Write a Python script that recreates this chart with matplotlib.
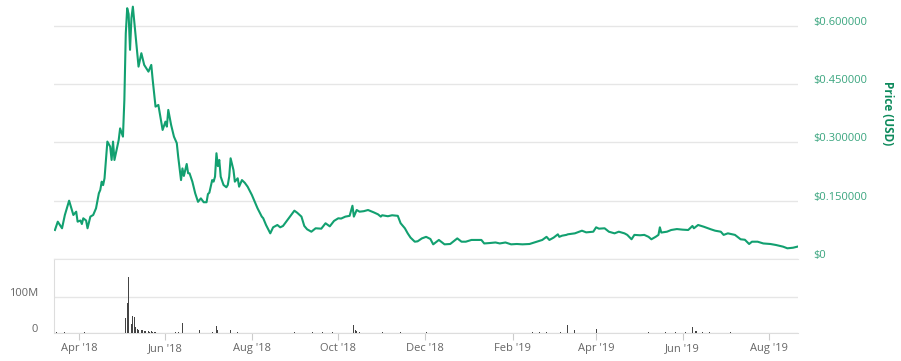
import matplotlib
matplotlib.use('Agg')
import matplotlib.pyplot as plt
from matplotlib.transforms import ScaledTranslation
import pandas as pd

plt.rcParams['font.family'] = ['Open Sans', 'DejaVu Sans']

price_dates = [
    '2018-03-15', '2018-03-17', '2018-03-20', '2018-03-22', '2018-03-25', '2018-03-27',
    '2018-03-28', '2018-03-30', '2018-03-31', '2018-04-02', '2018-04-03', '2018-04-04',
    '2018-04-06', '2018-04-07', '2018-04-09', '2018-04-11', '2018-04-13', '2018-04-15',
    '2018-04-16', '2018-04-17', '2018-04-18', '2018-04-19', '2018-04-21', '2018-04-23',
    '2018-04-24', '2018-04-25', '2018-04-26', '2018-04-29', '2018-04-30', '2018-05-02',
    '2018-05-03', '2018-05-04', '2018-05-05', '2018-05-06', '2018-05-07', '2018-05-08',
    '2018-05-09', '2018-05-11', '2018-05-13', '2018-05-15', '2018-05-17', '2018-05-20',
    '2018-05-22', '2018-05-23', '2018-05-25', '2018-05-27', '2018-05-30', '2018-06-01',
    '2018-06-02', '2018-06-03', '2018-06-05', '2018-06-07', '2018-06-09', '2018-06-10',
    '2018-06-12', '2018-06-13', '2018-06-14', '2018-06-16', '2018-06-17', '2018-06-18',
    '2018-06-20', '2018-06-22', '2018-06-24', '2018-06-26', '2018-06-28', '2018-06-30',
    '2018-07-01', '2018-07-02', '2018-07-04', '2018-07-05', '2018-07-06', '2018-07-07',
    '2018-07-08', '2018-07-09', '2018-07-10', '2018-07-12', '2018-07-14', '2018-07-15',
    '2018-07-16', '2018-07-17', '2018-07-19', '2018-07-20', '2018-07-22', '2018-07-23',
    '2018-07-25', '2018-07-27', '2018-07-29', '2018-08-01', '2018-08-03', '2018-08-05',
    '2018-08-08', '2018-08-09', '2018-08-11', '2018-08-14', '2018-08-16', '2018-08-19',
    '2018-08-21', '2018-08-23', '2018-08-27', '2018-08-31', '2018-09-02', '2018-09-05',
    '2018-09-07', '2018-09-09', '2018-09-12', '2018-09-15', '2018-09-19', '2018-09-22',
    '2018-09-25', '2018-09-28', '2018-10-01', '2018-10-03', '2018-10-06', '2018-10-09',
    '2018-10-11', '2018-10-12', '2018-10-14', '2018-10-16', '2018-10-19', '2018-10-22',
    '2018-10-26', '2018-10-29', '2018-10-31', '2018-11-01', '2018-11-05', '2018-11-08',
    '2018-11-12', '2018-11-14', '2018-11-17', '2018-11-19', '2018-11-21', '2018-11-24',
    '2018-11-26', '2018-11-29', '2018-12-02', '2018-12-05', '2018-12-07', '2018-12-09',
    '2018-12-11', '2018-12-15', '2018-12-19', '2018-12-24', '2018-12-27', '2018-12-30',
    '2019-01-03', '2019-01-10', '2019-01-12', '2019-01-16', '2019-01-20', '2019-01-23',
    '2019-01-27', '2019-01-31', '2019-02-04', '2019-02-08', '2019-02-13', '2019-02-18',
    '2019-02-22', '2019-02-25', '2019-02-27', '2019-03-02', '2019-03-05', '2019-03-06',
    '2019-03-08', '2019-03-11', '2019-03-12', '2019-03-17', '2019-03-22', '2019-03-25',
    '2019-03-30', '2019-04-01', '2019-04-03', '2019-04-07', '2019-04-10', '2019-04-14',
    '2019-04-17', '2019-04-21', '2019-04-23', '2019-04-26', '2019-04-28', '2019-05-02',
    '2019-05-05', '2019-05-08', '2019-05-10', '2019-05-13', '2019-05-15', '2019-05-16',
    '2019-05-17', '2019-05-21', '2019-05-24', '2019-05-28', '2019-06-01', '2019-06-05',
    '2019-06-08', '2019-06-09', '2019-06-12', '2019-06-16', '2019-06-21', '2019-06-24',
    '2019-06-28', '2019-06-30', '2019-07-03', '2019-07-08', '2019-07-12', '2019-07-15',
    '2019-07-18', '2019-07-20', '2019-07-24', '2019-07-28', '2019-08-02', '2019-08-06',
    '2019-08-11', '2019-08-14', '2019-08-18', '2019-08-21',
]
price_values = [
    0.0746, 0.0960, 0.0790, 0.1132, 0.1500, 0.1260,
    0.1132, 0.1217, 0.0960, 0.0990, 0.0900, 0.1047,
    0.0990, 0.0790, 0.1090, 0.1132, 0.1304, 0.1690,
    0.1775, 0.1989, 0.1900, 0.2076, 0.3020, 0.2890,
    0.2547, 0.3020, 0.2547, 0.3060, 0.3360, 0.3147,
    0.4090, 0.5800, 0.6450, 0.6300, 0.5380, 0.6200,
    0.6490, 0.5720, 0.4948, 0.5293, 0.4992, 0.4819,
    0.4992, 0.4606, 0.3919, 0.3962, 0.3319, 0.3533,
    0.3404, 0.3834, 0.3448, 0.3147, 0.2980, 0.2630,
    0.2030, 0.2330, 0.2136, 0.2444, 0.2205, 0.2205,
    0.1989, 0.1690, 0.1470, 0.1560, 0.1460, 0.1460,
    0.1670, 0.1706, 0.2030, 0.1990, 0.2118, 0.2720,
    0.2390, 0.2547, 0.2118, 0.1904, 0.1845, 0.1904,
    0.2118, 0.2590, 0.2290, 0.1989, 0.2076, 0.1860,
    0.2030, 0.1960, 0.1860, 0.1647, 0.1474, 0.1304,
    0.1090, 0.1050, 0.0875, 0.0660, 0.0815, 0.0875,
    0.0815, 0.0850, 0.1047, 0.1243, 0.1190, 0.1090,
    0.0850, 0.0764, 0.0702, 0.0790, 0.0780, 0.0919,
    0.0840, 0.0980, 0.1047, 0.1040, 0.1090, 0.1110,
    0.1370, 0.1090, 0.1260, 0.1217, 0.1230, 0.1260,
    0.1200, 0.1150, 0.1090, 0.1125, 0.1100, 0.1125,
    0.1110, 0.0920, 0.0790, 0.0660, 0.0550, 0.0445,
    0.0455, 0.0530, 0.0570, 0.0515, 0.0377, 0.0435,
    0.0490, 0.0377, 0.0386, 0.0530, 0.0445, 0.0445,
    0.0490, 0.0490, 0.0400, 0.0411, 0.0425, 0.0400,
    0.0425, 0.0377, 0.0386, 0.0377, 0.0386, 0.0445,
    0.0490, 0.0570, 0.0490, 0.0550, 0.0635, 0.0570,
    0.0600, 0.0620, 0.0635, 0.0660, 0.0728, 0.0685,
    0.0702, 0.0815, 0.0780, 0.0790, 0.0702, 0.0660,
    0.0702, 0.0660, 0.0620, 0.0507, 0.0620, 0.0610,
    0.0620, 0.0570, 0.0507, 0.0570, 0.0620, 0.0815,
    0.0680, 0.0702, 0.0746, 0.0770, 0.0755, 0.0746,
    0.0850, 0.0790, 0.0875, 0.0830, 0.0764, 0.0728,
    0.0702, 0.0620, 0.0660, 0.0620, 0.0507, 0.0495,
    0.0386, 0.0445, 0.0445, 0.0400, 0.0386, 0.0360,
    0.0317, 0.0275, 0.0290, 0.0317,
]

volume_dates = [
    '2018-03-16', '2018-03-22', '2018-04-05',
    '2018-05-04', '2018-05-05', '2018-05-06', '2018-05-07', '2018-05-08', '2018-05-09',
    '2018-05-10', '2018-05-11', '2018-05-12', '2018-05-13', '2018-05-14', '2018-05-15',
    '2018-05-16', '2018-05-17', '2018-05-18', '2018-05-19', '2018-05-20', '2018-05-21',
    '2018-05-22', '2018-05-23', '2018-05-24', '2018-05-25',
    '2018-06-08', '2018-06-10', '2018-06-12', '2018-06-13', '2018-06-25',
    '2018-07-04', '2018-07-07', '2018-07-08', '2018-07-17', '2018-07-18', '2018-07-22',
    '2018-08-31', '2018-09-13', '2018-09-20', '2018-09-27',
    '2018-10-12', '2018-10-13', '2018-10-14', '2018-10-16', '2018-10-22',
    '2018-11-01', '2018-11-14', '2018-12-02',
    '2019-02-15', '2019-02-20', '2019-02-25', '2019-03-03', '2019-03-07',
    '2019-03-12', '2019-03-17', '2019-03-22', '2019-04-01', '2019-04-03', '2019-04-08',
    '2019-05-08', '2019-05-14', '2019-05-20', '2019-05-27', '2019-06-03',
    '2019-06-08', '2019-06-10', '2019-06-11', '2019-06-15', '2019-06-20',
    '2019-06-26', '2019-07-01', '2019-07-05',
]
volume_values = [  # millions
    2, 2, 2,
    41, 82, 156, 50, 25, 47,
    45, 17, 12, 9, 10, 8,
    7, 6, 6, 5, 5, 4,
    5, 4, 4, 3,
    4, 4, 5, 29, 8,
    4, 20, 9, 8, 3, 2,
    4, 2, 2, 3,
    22, 8, 5, 4, 4,
    3, 2, 2,
    2, 3, 2, 3, 4,
    22, 8, 6, 12, 5, 3,
    2, 2, 3, 2, 3,
    16, 6, 5, 3, 2,
    2, 2, 2,
]

x_tick_dates = ['2018-04-01', '2018-06-01', '2018-08-01', '2018-10-01', '2018-12-01',
                '2019-02-01', '2019-04-01', '2019-06-01', '2019-08-01']
x_tick_labels = ["Apr '18", "Jun '18", "Aug '18", "Oct '18", "Dec '18",
                 "Feb '19", "Apr '19", "Jun '19", "Aug '19"]
price_ticks = [0, 0.15, 0.30, 0.45, 0.60]
price_tick_labels = ['$0', '$0.150000', '$0.300000', '$0.450000', '$0.600000']
volume_ticks = [0, 100]
volume_tick_labels = ['0', '100M']

W, H = 901, 361
fig = plt.figure(figsize=(W / 100, H / 100), dpi=100)
ax = fig.add_axes([54 / W, (H - 259) / H, (798 - 54) / W, 257 / H])
axv = fig.add_axes([54 / W, (H - 333) / H, (798 - 54) / W, 74 / H], sharex=ax)

grid_c = '#e6e6e6'
line_c = '#12a070'

pdates = pd.to_datetime(price_dates)
ax.plot(pdates, price_values, color=line_c, lw=1.5, solid_joinstyle='round', zorder=3)
ax.set_ylim(0, 0.661)
ax.set_yticks(price_ticks)
ax.set_yticklabels(price_tick_labels)
ax.yaxis.tick_right()
ax.tick_params(axis='y', length=0, pad=11, labelsize=8, labelcolor='#3aa57f')
ax.tick_params(axis='x', length=0, labelbottom=False)
ax.grid(axis='y', color=grid_c, lw=1)
ax.grid(axis='x', visible=False)
for s in ax.spines.values():
    s.set_visible(False)
off = ScaledTranslation(0, 5 / 100, fig.dpi_scale_trans)
for lab in ax.get_yticklabels():
    lab.set_transform(lab.get_transform() + off)

fig.text(887 / W, 1 - 113 / H, 'Price (USD)', rotation=270, ha='center', va='center',
         fontsize=8.5, fontweight='bold', color='#0d8a5c')

vdates = pd.to_datetime(volume_dates)
axv.bar(vdates, volume_values, width=0.55, color='#444444', zorder=3)
axv.set_ylim(0, 205.6)
axv.set_yticks(volume_ticks)
axv.set_yticklabels(volume_tick_labels)
axv.tick_params(axis='y', length=0, pad=11.5, labelsize=8, labelcolor='#666666')
axv.grid(axis='y', color=grid_c, lw=1)
for lab in axv.get_yticklabels():
    lab.set_transform(lab.get_transform() + ScaledTranslation(0, 5.5 / 100, fig.dpi_scale_trans))
axv.spines['right'].set_visible(False)
axv.spines['top'].set_color(grid_c)
axv.spines['left'].set_color('#dddddd')
axv.spines['bottom'].set_color('#dddddd')

axv.set_xticks(pd.to_datetime(x_tick_dates))
axv.set_xticklabels(x_tick_labels)
axv.tick_params(axis='x', length=5, width=0.8, color='#cccccc', pad=2,
                labelsize=8, labelcolor='#666666')
axv.set_xlim(pd.Timestamp('2018-03-14 08:00'), pd.Timestamp('2019-08-21 12:00'))

fig.savefig('out.png', dpi=100, facecolor='white')
